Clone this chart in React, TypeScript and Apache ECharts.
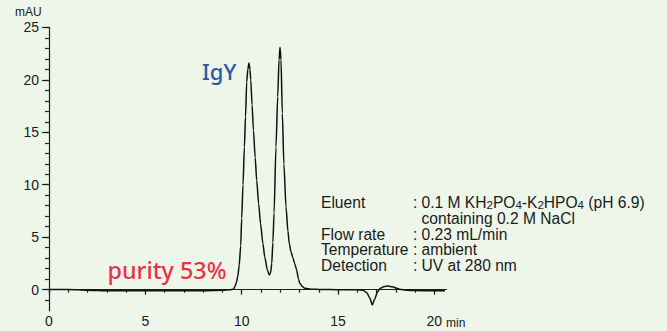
import React, { useEffect, useRef } from 'react';
import * as echarts from 'echarts';

// retention time (min)
const times = [
  0, 0.5, 1, 2, 3, 4, 5, 6, 7, 8, 9, 9.4, 9.57, 9.65, 9.73, 9.8, 9.87, 9.95, 10.0, 10.07,
  10.14, 10.2, 10.26, 10.32, 10.38, 10.43, 10.47, 10.54, 10.61, 10.7, 10.78, 10.88, 10.98,
  11.1, 11.2, 11.33, 11.43, 11.5, 11.56, 11.62, 11.68, 11.78, 11.87, 11.94, 11.99, 12.04,
  12.11, 12.19, 12.3, 12.4, 12.47, 12.56, 12.65, 12.75, 12.85, 12.95, 13.02, 13.15, 13.28,
  13.6, 14.06, 15, 16, 16.3, 16.5, 16.65, 16.78, 16.9, 17.05, 17.2, 17.4, 17.6, 17.8, 18.2,
  18.6, 19, 20, 20.55,
];
// absorbance (mAU)
const absorbance = [
  0.02, 0.03, 0.03, -0.05, -0.1, -0.1, -0.1, -0.1, -0.1, -0.1, -0.05, 0.0, 0.05, 0.3, 0.7,
  1.3, 2.3, 4.2, 6.8, 10.0, 13.6, 16.5, 19.8, 21.0, 21.6, 21.0, 20.0, 17.6, 15.2, 12.6, 10.4,
  8.2, 6.3, 4.4, 3.1, 1.9, 1.4, 1.6, 2.5, 4.5, 7.3, 13.6, 18.4, 21.9, 23.1, 21.9, 16.8, 12.0,
  7.9, 5.6, 4.4, 3.6, 3.1, 2.5, 1.9, 1.0, 0.6, 0.3, 0.13, 0.05, 0.02, 0, 0, -0.05, -0.3,
  -0.8, -1.45, -0.9, -0.2, 0.15, 0.3, 0.35, 0.28, 0.05, -0.05, -0.08, -0.1, -0.1,
];

const xMajorTicks = [0, 5, 10, 15, 20];
const xMinorTicks = [0, 1, 2, 3, 4, 5, 6, 7, 8, 9, 10, 11, 12, 13, 14, 15, 16, 17, 18, 19, 20];
const yMajorTicks = [0, 5, 10, 15, 20, 25];
const yMinorTicks = [-1, 0, 1, 2, 3, 4, 5, 6, 7, 8, 9, 10, 11, 12, 13, 14, 15, 16, 17, 18, 19, 20, 21, 22, 23, 24, 25];

const conditionLabels = ['Eluent', '', 'Flow rate', 'Temperature', 'Detection'];
const conditionColons = [':', '', ':', ':', ':'];
const conditionValues = [
  '0.1 M KH{s|2}PO{s|4}-K{s|2}HPO{s|4} (pH 6.9)',
  'containing 0.2 M NaCl',
  '0.23 mL/min',
  'ambient',
  'UV at 280 nm',
];

const X_MIN = 0;
const X_MAX = 20.63;
const Y_MIN = -2;
const Y_MAX = 25;

export default function App() {
  const ref = useRef<HTMLDivElement>(null);

  useEffect(() => {
    if (!ref.current) return;
    const chart = echarts.init(ref.current, null, { renderer: 'svg' });
    const data = times.map((t, i) => [t, absorbance[i]]);
    const axisColor = '#1e1e1e';
    const font = 'Liberation Sans, Arial, sans-serif';
    const fs = 15.6;

    const rowY = [202.5, 218.7, 234, 249.7, 265.3];
    const graphics: any[] = [];
    conditionLabels.forEach((lab, i) => {
      if (lab) {
        graphics.push({
          type: 'text',
          x: 321,
          y: rowY[i],
          style: { text: lab, fontSize: fs, fontFamily: font, fill: '#1a1a1a', verticalAlign: 'middle', lineHeight: 14 },
        });
      }
      if (conditionColons[i]) {
        graphics.push({
          type: 'text',
          x: 413,
          y: rowY[i],
          style: { text: conditionColons[i], fontSize: fs, fontFamily: font, fill: '#1a1a1a', verticalAlign: 'middle', lineHeight: 14 },
        });
      }
      graphics.push({
        type: 'text',
        x: 421.5,
        y: rowY[i],
        style: {
          text: conditionValues[i],
          fontSize: fs,
          fontFamily: font,
          fill: '#1a1a1a',
          lineHeight: i === 0 ? 16 : 14,
          verticalAlign: 'middle',
          rich: {
            s: { fontSize: 11.5, fontFamily: font, fill: '#1a1a1a', lineHeight: 8, verticalAlign: 'bottom' },
          },
        },
      });
    });

    chart.setOption({
      animation: false,
      backgroundColor: '#eef6ea',
      grid: { left: 49, right: 220.5, top: 27.3, bottom: 20.3, containLabel: false },
      xAxis: [
        {
          type: 'value', min: X_MIN, max: X_MAX,
          axisLine: { show: true, lineStyle: { color: axisColor, width: 1.2 } },
          axisTick: { show: true, customValues: xMinorTicks, length: 3, lineStyle: { color: axisColor, width: 1.2 } },
          axisLabel: { show: false },
          splitLine: { show: false },
        },
        {
          type: 'value', min: X_MIN, max: X_MAX, position: 'bottom',
          axisLine: { show: false },
          axisTick: { show: true, customValues: xMajorTicks, length: 5, lineStyle: { color: axisColor, width: 1.2 } },
          axisLabel: { show: true, customValues: xMajorTicks, margin: 3, fontSize: 14, fontFamily: font, color: '#1a1a1a' },
          splitLine: { show: false },
        },
      ],
      yAxis: [
        {
          type: 'value', min: Y_MIN, max: Y_MAX,
          axisLine: { show: true, lineStyle: { color: axisColor, width: 1.2 } },
          axisTick: { show: true, customValues: yMinorTicks, length: 4, lineStyle: { color: axisColor, width: 1.2 } },
          axisLabel: { show: false },
          splitLine: { show: false },
        },
        {
          type: 'value', min: Y_MIN, max: Y_MAX, position: 'left',
          axisLine: { show: false },
          axisTick: { show: true, customValues: yMajorTicks, length: 7, lineStyle: { color: axisColor, width: 1.2 } },
          axisLabel: { show: true, customValues: yMajorTicks, margin: 10, fontSize: 14, fontFamily: font, color: '#1a1a1a' },
          splitLine: { show: false },
        },
      ],
      series: [
        {
          type: 'line',
          xAxisIndex: 0,
          yAxisIndex: 0,
          data,
          showSymbol: false,
          smooth: 0.25,
          smoothMonotone: 'x',
          lineStyle: { color: '#111111', width: 1.5 },
        },
      ],
      graphic: [
        { type: 'text', left: 15, top: 6, style: { text: 'mAU', fontSize: 12, fontFamily: font, fill: '#1a1a1a' } },
        { type: 'text', left: 446, top: 317, style: { text: 'min', fontSize: 12, fontFamily: font, fill: '#1a1a1a' } },
        { type: 'text', left: 202, top: 60, style: { text: 'IgY', fontSize: 22, fontWeight: 500, fontFamily: 'Noto Sans, sans-serif', fill: '#2a5ca6' } },
        { type: 'text', left: 107.5, top: 258, style: { text: 'purity 53%', fontSize: 23.3, fontWeight: 500, fontFamily: 'Noto Sans, sans-serif', fill: '#e8324a' } },
        ...graphics,
      ],
    });
    return () => chart.dispose();
  }, []);

  return <div ref={ref} style={{ position: 'absolute', left: 0, top: 0, width: 667, height: 331 }} />;
}
